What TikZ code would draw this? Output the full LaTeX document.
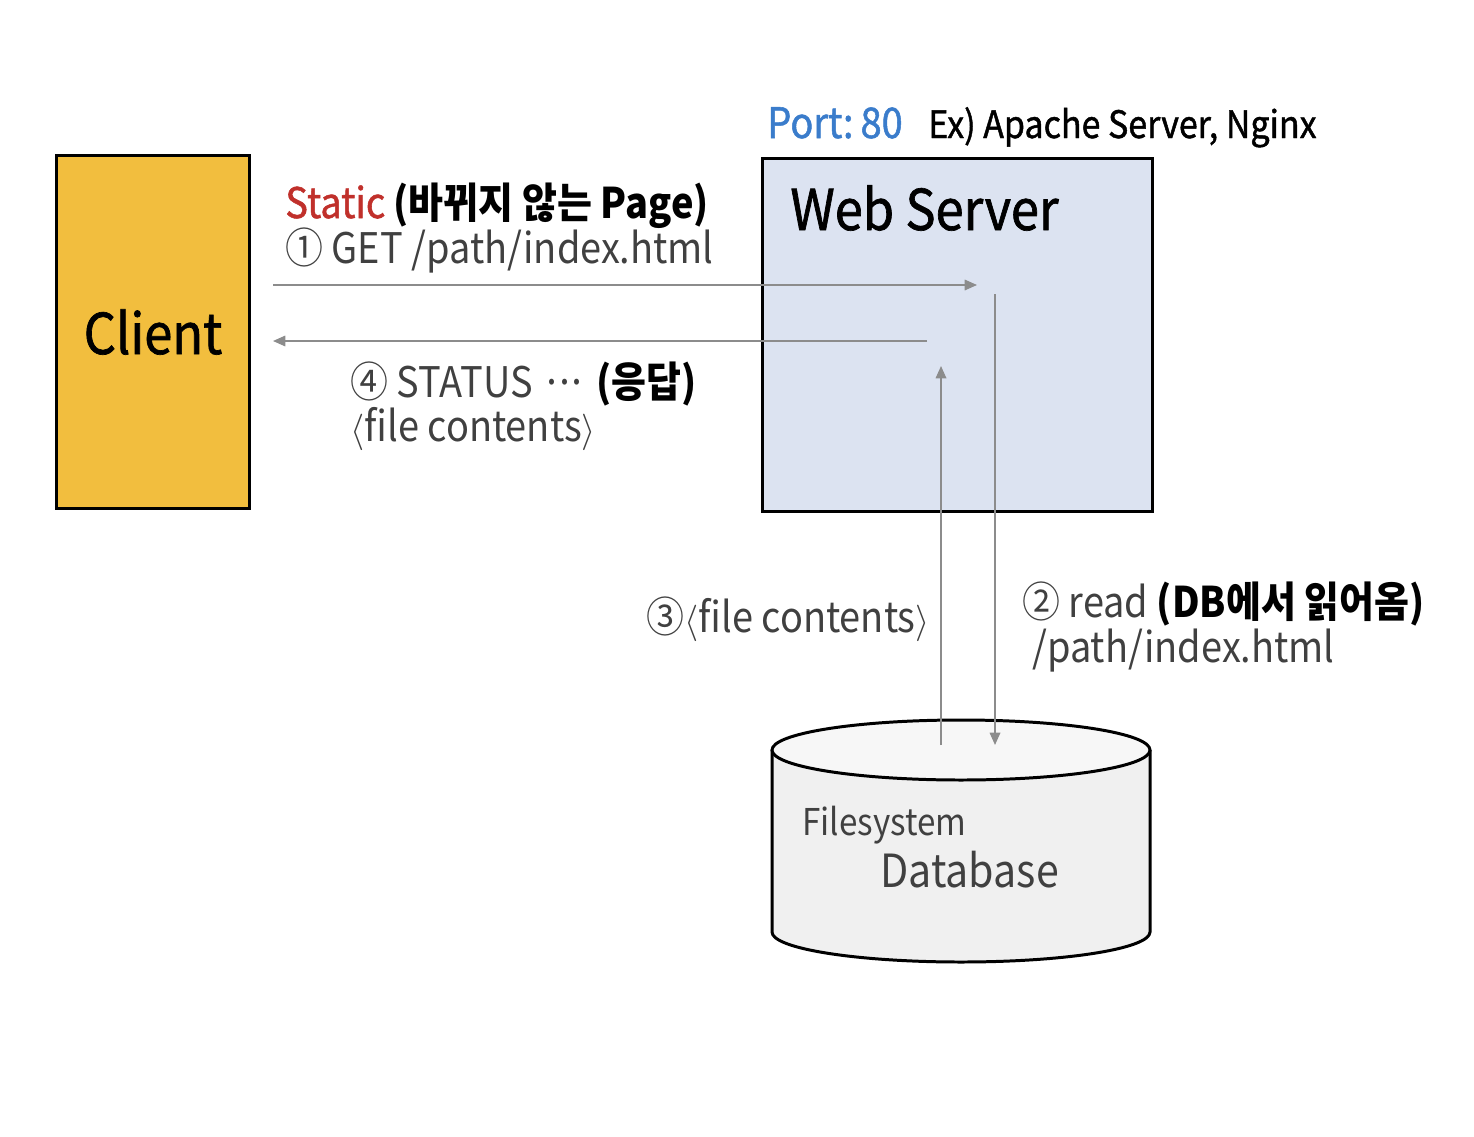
\documentclass[tikz,border=0pt]{standalone}
\usepackage{fontspec}
\setmainfont{Noto Sans CJK KR}[FakeStretch=0.9]
\newfontfamily\heavyfont{Noto Sans CJK KR}[FakeStretch=0.9, FakeBold=1.2]
\usetikzlibrary{arrows.meta}
\definecolor{clientfill}{HTML}{F2BE3E}
\definecolor{serverfill}{HTML}{DCE3F1}
\definecolor{dbside}{HTML}{F0F0F0}
\definecolor{dbtopfill}{HTML}{F7F7F7}
\definecolor{portblue}{HTML}{3A7CCB}
\definecolor{staticred}{HTML}{C0302B}
\definecolor{flowgray}{HTML}{8C8C8C}
\definecolor{lighttext}{HTML}{404040}
\newcommand{\lang}{{\fontsize{20}{24}\selectfont$\langle$}}
\newcommand{\rang}{{\fontsize{20}{24}\selectfont$\rangle$}}
\newcommand{\middots}{·\kern-0.2em·\kern-0.2em·}
\tikzset{
  box/.style={rectangle, draw=black, line width=1.7pt, inner sep=0},
  flow/.style={draw=flowgray, line width=0.9pt, -{Triangle[length=7pt, width=6pt]}},
  txt/.style={inner sep=0, anchor=base west, text height=0.75em, text depth=0.2em},
  big/.style={font=\heavyfont\fontsize{32}{36}\selectfont},
  mid/.style={font=\fontsize{24}{28}\selectfont},
}
\begin{document}
\begin{tikzpicture}[x=0.02cm, y=-0.02cm]
  \useasboundingbox (0,0) rectangle (1474,1136);

  % Boxes
  \node (client) [box, fill=clientfill, minimum width=3.88cm, minimum height=7.08cm, big] at (153,332) {Client};
  \node (server) [box, fill=serverfill, minimum width=7.82cm, minimum height=7.08cm] at (957.5,335) {};
  \node (servertitle) [txt, big] at (790,230) {Web Server};

  % Database cylinder
  \fill[dbside] (772,750) -- (772,932) arc[start angle=180, end angle=0, x radius=189, y radius=30] -- (1150,750) -- cycle;
  \draw[line width=1.7pt] (772,750) -- (772,932) arc[start angle=180, end angle=0, x radius=189, y radius=30] -- (1150,750);
  \draw[line width=1.7pt, fill=dbtopfill] (961,750) ellipse [x radius=189, y radius=30];
  \node (fs) [txt, text=lighttext, font=\fontsize{21}{25}\selectfont] at (802,835) {Filesystem};
  \node (db) [txt, text=lighttext, font=\fontsize{26}{30}\selectfont] at (880,887) {Database};

  % Labels
  \node (port) [txt, text=portblue, font=\heavyfont\fontsize{24}{28}\selectfont] at (767,138) {Port:\,80};
  \node (example) [txt, font=\heavyfont\fontsize{21.5}{25}\selectfont] at (928,138) {Ex) Apache Server, Nginx};
  \node (static) [txt, mid] at (285,218) {\textcolor{staticred}{\heavyfont Static} \textbf{(바뀌지 않는 Page)}};
  \node (get) [txt, mid, text=lighttext] at (285,263) {① GET /path/index.html};
  \node (status) [txt, mid, text=lighttext] at (350,397) {④ STATUS \middots{} \textcolor{black}{\textbf{(응답)}}};
  \node (resp) [txt, mid, text=lighttext] at (350,441) {\lang file contents\rang};
  \node (read) [txt, mid, text=lighttext] at (1022,617) {② read \textcolor{black}{\textbf{(DB에서 읽어옴)}}};
  \node (readpath) [txt, mid, text=lighttext] at (1032,662) {/path/index.html};
  \node (contents) [txt, mid, text=lighttext] at (646,632) {③\lang file contents\rang};

  % Arrows
  \coordinate (getstart) at (273,285);
  \coordinate (getend) at (977,285);
  \coordinate (respstart) at (927,341);
  \coordinate (respend) at (273,341);
  \coordinate (readstart) at (995,294);
  \coordinate (readend) at (995,745);
  \coordinate (filestart) at (941,745);
  \coordinate (fileend) at (941,366);
  \draw[flow] (getstart) -- (getend);
  \draw[flow] (respstart) -- (respend);
  \draw[flow] (readstart) -- (readend);
  \draw[flow] (filestart) -- (fileend);
\end{tikzpicture}
\end{document}
